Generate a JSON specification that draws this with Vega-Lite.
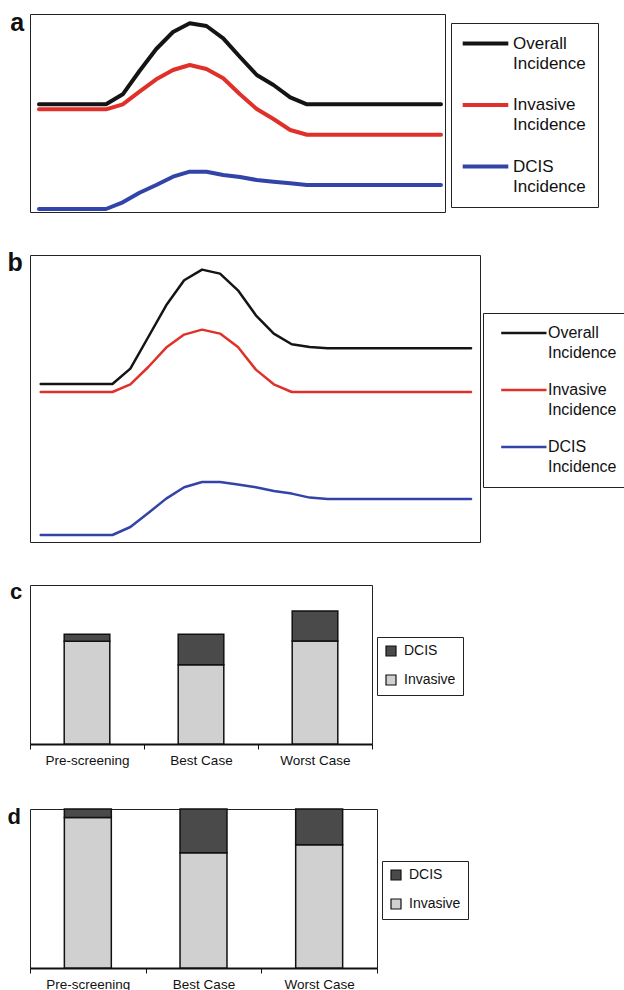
{
  "$schema": "https://vega.github.io/schema/vega-lite/v6.json",
  "background": "white",
  "padding": {"left": 6, "top": 10, "right": 0, "bottom": 0},
  "config": {
    "view": {"stroke": "#222222", "strokeWidth": 1},
    "font": "Liberation Sans"
  },
  "concat": [
    {
      "vconcat": [
        {
          "width": 415,
          "height": 198,
          "title": {"text": "a", "orient": "left", "anchor": "end", "angle": 0, "align": "right", "baseline": "top", "dy": -3, "offset": -8, "fontSize": 25, "fontWeight": "bold", "font": "Liberation Sans", "color": "#111111"},
          "data": {"values": [
            {"s": "Overall Incidence", "t": 0, "v": 107.7}, {"s": "Overall Incidence", "t": 4, "v": 107.7}, {"s": "Overall Incidence", "t": 5, "v": 117.7}, {"s": "Overall Incidence", "t": 6, "v": 141}, {"s": "Overall Incidence", "t": 7, "v": 163}, {"s": "Overall Incidence", "t": 8, "v": 180}, {"s": "Overall Incidence", "t": 9, "v": 188.7}, {"s": "Overall Incidence", "t": 10, "v": 186}, {"s": "Overall Incidence", "t": 11, "v": 173.7}, {"s": "Overall Incidence", "t": 12, "v": 155}, {"s": "Overall Incidence", "t": 13, "v": 137}, {"s": "Overall Incidence", "t": 14, "v": 127}, {"s": "Overall Incidence", "t": 15, "v": 114.7}, {"s": "Overall Incidence", "t": 16, "v": 107.7}, {"s": "Overall Incidence", "t": 24, "v": 107.7},
            {"s": "Invasive Incidence", "t": 0, "v": 102.7}, {"s": "Invasive Incidence", "t": 4, "v": 102.7}, {"s": "Invasive Incidence", "t": 5, "v": 107.7}, {"s": "Invasive Incidence", "t": 6, "v": 120.3}, {"s": "Invasive Incidence", "t": 7, "v": 132.7}, {"s": "Invasive Incidence", "t": 8, "v": 142}, {"s": "Invasive Incidence", "t": 9, "v": 147}, {"s": "Invasive Incidence", "t": 10, "v": 143}, {"s": "Invasive Incidence", "t": 11, "v": 133.7}, {"s": "Invasive Incidence", "t": 12, "v": 117.7}, {"s": "Invasive Incidence", "t": 13, "v": 103}, {"s": "Invasive Incidence", "t": 14, "v": 93}, {"s": "Invasive Incidence", "t": 15, "v": 82}, {"s": "Invasive Incidence", "t": 16, "v": 77.3}, {"s": "Invasive Incidence", "t": 24, "v": 77.3},
            {"s": "DCIS Incidence", "t": 0, "v": 3}, {"s": "DCIS Incidence", "t": 4, "v": 3}, {"s": "DCIS Incidence", "t": 5, "v": 9.7}, {"s": "DCIS Incidence", "t": 6, "v": 19.3}, {"s": "DCIS Incidence", "t": 7, "v": 27}, {"s": "DCIS Incidence", "t": 8, "v": 35.3}, {"s": "DCIS Incidence", "t": 9, "v": 40.3}, {"s": "DCIS Incidence", "t": 10, "v": 40.3}, {"s": "DCIS Incidence", "t": 11, "v": 37}, {"s": "DCIS Incidence", "t": 12, "v": 35}, {"s": "DCIS Incidence", "t": 13, "v": 32}, {"s": "DCIS Incidence", "t": 14, "v": 30.3}, {"s": "DCIS Incidence", "t": 15, "v": 28.7}, {"s": "DCIS Incidence", "t": 16, "v": 27}, {"s": "DCIS Incidence", "t": 24, "v": 27}
          ]},
          "mark": {"type": "line", "strokeWidth": 4, "strokeCap": "round", "strokeJoin": "round"},
          "encoding": {
            "x": {"field": "t", "type": "quantitative", "scale": {"domain": [-0.537, 24.24], "nice": false, "zero": false}, "axis": null},
            "y": {"field": "v", "type": "quantitative", "scale": {"domain": [0, 198], "nice": false}, "axis": null},
            "color": {
              "field": "s", "type": "nominal",
              "scale": {"domain": ["Overall Incidence", "Invasive Incidence", "DCIS Incidence"], "range": ["#141414", "#e0302a", "#3244a8"]},
              "legend": {
                "orient": "none", "legendX": 421, "legendY": 9, "title": null,
                "symbolType": "M-1.76,0H7.36", "symbolSize": 100, "symbolStrokeWidth": 4,
                "labelExpr": "split(datum.label, ' ')",
                "labelFont": "Liberation Sans", "labelFontSize": 17, "labelColor": "#111111", "labelLimit": 300, "labelOffset": 33,
                "strokeColor": "#222222", "fillColor": "white", "padding": 12, "rowPadding": 23.5,
                "encode": {"labels": {"update": {"lineHeight": {"value": 20}}}}
              }
            }
          }
        },
        {
          "width": 450,
          "height": 287,
          "title": {"text": "b", "orient": "left", "anchor": "end", "angle": 0, "align": "right", "baseline": "top", "dy": -4, "offset": -8, "fontSize": 25, "fontWeight": "bold", "font": "Liberation Sans", "color": "#111111"},
          "data": {"values": [
            {"s": "Overall Incidence", "t": 0, "v": 158}, {"s": "Overall Incidence", "t": 4, "v": 158}, {"s": "Overall Incidence", "t": 5, "v": 173.4}, {"s": "Overall Incidence", "t": 6, "v": 205}, {"s": "Overall Incidence", "t": 7, "v": 236.7}, {"s": "Overall Incidence", "t": 8, "v": 261.7}, {"s": "Overall Incidence", "t": 9, "v": 272.4}, {"s": "Overall Incidence", "t": 10, "v": 268.4}, {"s": "Overall Incidence", "t": 11, "v": 251.7}, {"s": "Overall Incidence", "t": 12, "v": 226.7}, {"s": "Overall Incidence", "t": 13, "v": 208.4}, {"s": "Overall Incidence", "t": 14, "v": 197.7}, {"s": "Overall Incidence", "t": 15, "v": 195}, {"s": "Overall Incidence", "t": 16, "v": 193.7}, {"s": "Overall Incidence", "t": 24, "v": 193.7},
            {"s": "Invasive Incidence", "t": 0, "v": 150}, {"s": "Invasive Incidence", "t": 4, "v": 150}, {"s": "Invasive Incidence", "t": 5, "v": 157.7}, {"s": "Invasive Incidence", "t": 6, "v": 175}, {"s": "Invasive Incidence", "t": 7, "v": 194.4}, {"s": "Invasive Incidence", "t": 8, "v": 207.4}, {"s": "Invasive Incidence", "t": 9, "v": 212.4}, {"s": "Invasive Incidence", "t": 10, "v": 208.4}, {"s": "Invasive Incidence", "t": 11, "v": 195}, {"s": "Invasive Incidence", "t": 12, "v": 172.4}, {"s": "Invasive Incidence", "t": 13, "v": 157.7}, {"s": "Invasive Incidence", "t": 14, "v": 150}, {"s": "Invasive Incidence", "t": 24, "v": 150},
            {"s": "DCIS Incidence", "t": 0, "v": 7}, {"s": "DCIS Incidence", "t": 4, "v": 7}, {"s": "DCIS Incidence", "t": 5, "v": 15}, {"s": "DCIS Incidence", "t": 6, "v": 29}, {"s": "DCIS Incidence", "t": 7, "v": 43.4}, {"s": "DCIS Incidence", "t": 8, "v": 54.7}, {"s": "DCIS Incidence", "t": 9, "v": 60}, {"s": "DCIS Incidence", "t": 10, "v": 60}, {"s": "DCIS Incidence", "t": 11, "v": 57.4}, {"s": "DCIS Incidence", "t": 12, "v": 54.7}, {"s": "DCIS Incidence", "t": 13, "v": 51}, {"s": "DCIS Incidence", "t": 14, "v": 48.4}, {"s": "DCIS Incidence", "t": 15, "v": 44.4}, {"s": "DCIS Incidence", "t": 16, "v": 43}, {"s": "DCIS Incidence", "t": 24, "v": 43}
          ]},
          "mark": {"type": "line", "strokeWidth": 2.5, "strokeCap": "round", "strokeJoin": "round"},
          "encoding": {
            "x": {"field": "t", "type": "quantitative", "scale": {"domain": [-0.597, 24.5], "nice": false, "zero": false}, "axis": null},
            "y": {"field": "v", "type": "quantitative", "scale": {"domain": [0, 287], "nice": false}, "axis": null},
            "color": {
              "field": "s", "type": "nominal",
              "scale": {"domain": ["Overall Incidence", "Invasive Incidence", "DCIS Incidence"], "range": ["#141414", "#e0302a", "#3244a8"]},
              "legend": {
                "orient": "none", "legendX": 453, "legendY": 58, "title": null,
                "symbolType": "M-0.36,0H8.7", "symbolSize": 100, "symbolStrokeWidth": 2.5,
                "labelExpr": "split(datum.label, ' ')",
                "labelFont": "Liberation Sans", "labelFontSize": 16, "labelColor": "#111111", "labelLimit": 300, "labelOffset": 37,
                "strokeColor": "#222222", "fillColor": "white", "padding": 12, "rowPadding": 21,
                "encode": {"labels": {"update": {"lineHeight": {"value": 20}}}}
              }
            }
          }
        }
      ],
      "bounds": "flush",
      "spacing": 43,
      "resolve": {"scale": {"color": "independent"}, "legend": {"color": "independent"}}
    },
    {
      "vconcat": [
        {
          "width": 342,
          "height": 159,
          "title": {"text": "c", "orient": "left", "anchor": "end", "angle": 0, "align": "right", "baseline": "top", "dy": -3, "offset": -5, "fontSize": 22, "fontWeight": "bold", "font": "Liberation Sans", "color": "#111111"},
          "data": {"values": [
            {"case": "Pre-screening", "type": "Invasive", "value": 103}, {"case": "Pre-screening", "type": "DCIS", "value": 7},
            {"case": "Best Case", "type": "Invasive", "value": 79.3}, {"case": "Best Case", "type": "DCIS", "value": 30.7},
            {"case": "Worst Case", "type": "Invasive", "value": 103.3}, {"case": "Worst Case", "type": "DCIS", "value": 30}
          ]},
          "mark": {"type": "bar", "width": {"band": 0.4}, "stroke": "#111111", "strokeWidth": 1.5},
          "encoding": {
            "x": {"field": "case", "type": "nominal", "sort": ["Pre-screening", "Best Case", "Worst Case"], "scale": {"paddingInner": 0, "paddingOuter": 0},
              "axis": {"title": null, "labelAngle": 0, "tickBand": "extent", "tickSize": 5, "tickColor": "#111111", "domainColor": "#111111", "domainWidth": 2, "labelFont": "Liberation Sans", "labelFontSize": 13.5, "labelColor": "#111111", "labelPadding": 4}},
            "y": {"field": "value", "type": "quantitative", "stack": "zero", "scale": {"domain": [0, 159.3], "nice": false}, "axis": null},
            "order": {"field": "type", "sort": "descending"},
            "color": {"field": "type", "type": "nominal", "scale": {"domain": ["DCIS", "Invasive"], "range": ["#4a4a4a", "#d0d0d0"]},
              "legend": {"orient": "none", "legendX": 347, "legendY": 52, "title": null, "symbolType": "square", "symbolSize": 100, "symbolStrokeColor": "#111111", "symbolStrokeWidth": 1.2, "labelFont": "Liberation Sans", "labelFontSize": 14, "labelColor": "#111111", "labelOffset": 6, "strokeColor": "#222222", "fillColor": "white", "padding": 7, "rowPadding": 13}}
          }
        },
        {
          "width": 347,
          "height": 159,
          "title": {"text": "d", "orient": "left", "anchor": "end", "angle": 0, "align": "right", "baseline": "top", "dy": -1, "offset": -5, "fontSize": 22, "fontWeight": "bold", "font": "Liberation Sans", "color": "#111111"},
          "data": {"values": [
            {"case": "Pre-screening", "type": "Invasive", "value": 94.7}, {"case": "Pre-screening", "type": "DCIS", "value": 5.3},
            {"case": "Best Case", "type": "Invasive", "value": 72.5}, {"case": "Best Case", "type": "DCIS", "value": 27.5},
            {"case": "Worst Case", "type": "Invasive", "value": 77.5}, {"case": "Worst Case", "type": "DCIS", "value": 22.5}
          ]},
          "mark": {"type": "bar", "width": {"band": 0.406}, "stroke": "#111111", "strokeWidth": 1.5},
          "encoding": {
            "x": {"field": "case", "type": "nominal", "sort": ["Pre-screening", "Best Case", "Worst Case"], "scale": {"paddingInner": 0, "paddingOuter": 0},
              "axis": {"title": null, "labelAngle": 0, "tickBand": "extent", "tickSize": 5, "tickColor": "#111111", "domainColor": "#111111", "domainWidth": 2, "labelFont": "Liberation Sans", "labelFontSize": 13.5, "labelColor": "#111111", "labelPadding": 4}},
            "y": {"field": "value", "type": "quantitative", "stack": "zero", "scale": {"domain": [0, 100], "nice": false}, "axis": null},
            "order": {"field": "type", "sort": "descending"},
            "color": {"field": "type", "type": "nominal", "scale": {"domain": ["DCIS", "Invasive"], "range": ["#4a4a4a", "#d0d0d0"]},
              "legend": {"orient": "none", "legendX": 352, "legendY": 52, "title": null, "symbolType": "square", "symbolSize": 100, "symbolStrokeColor": "#111111", "symbolStrokeWidth": 1.2, "labelFont": "Liberation Sans", "labelFontSize": 14, "labelColor": "#111111", "labelOffset": 6, "strokeColor": "#222222", "fillColor": "white", "padding": 7, "rowPadding": 13}}
          }
        }
      ],
      "bounds": "flush",
      "spacing": 65,
      "resolve": {"scale": {"color": "independent"}, "legend": {"color": "independent"}}
    }
  ],
  "columns": 1,
  "align": "none",
  "spacing": 37,
  "resolve": {"scale": {"color": "independent"}, "legend": {"color": "independent"}}
}
